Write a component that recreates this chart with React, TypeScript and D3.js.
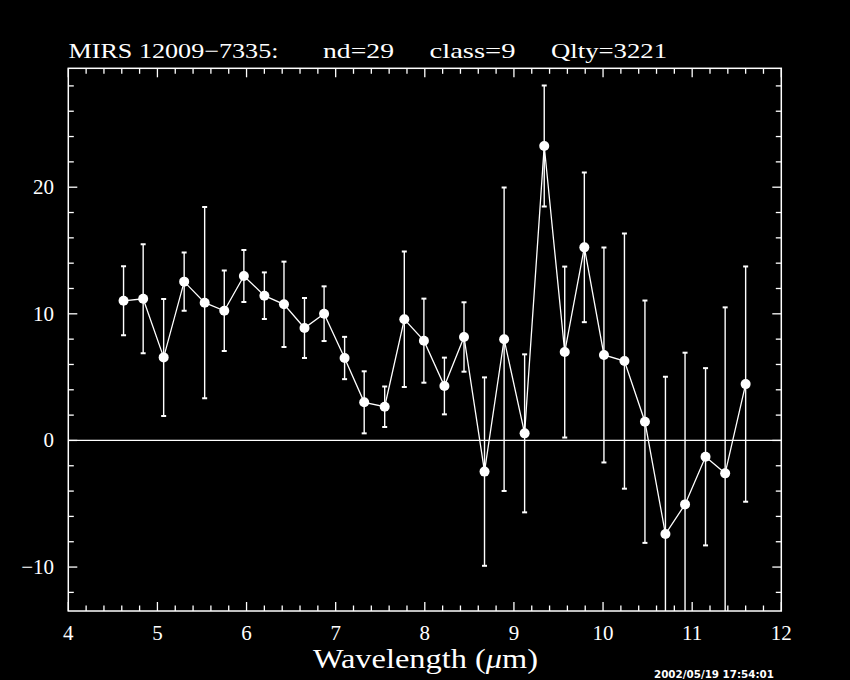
import React from 'react';
import * as d3 from 'd3';

// spectrum
const wavelengths = [4.62, 4.84, 5.07, 5.30, 5.53, 5.75, 5.97, 6.20, 6.42, 6.65, 6.87, 7.10, 7.32, 7.55, 7.77, 7.99,
  8.22, 8.44, 8.67, 8.89, 9.12, 9.34, 9.57, 9.79, 10.01, 10.24, 10.47, 10.70, 10.92, 11.15, 11.37, 11.60];
const fluxes = [11.03, 11.19, 6.56, 12.54, 10.88, 10.24, 12.99, 11.43, 10.75, 8.88, 10.01, 6.51, 3.01, 2.66, 9.57, 7.88,
  4.30, 8.17, -2.46, 7.99, 0.56, 23.25, 6.98, 15.25, 6.75, 6.27, 1.48, -7.39, -5.05, -1.29, -2.60, 4.45];
const sigmas = [2.72, 4.30, 4.62, 2.30, 7.55, 3.18, 2.06, 1.84, 3.37, 2.37, 2.16, 1.67, 2.45, 1.60, 5.35, 3.32,
  2.24, 2.74, 7.44, 11.98, 6.24, 4.78, 6.75, 5.91, 8.49, 10.08, 9.57, 12.42, 11.98, 7.00, 13.11, 9.29];

const xTickLabels = [4, 5, 6, 7, 8, 9, 10, 11, 12];
const yTickLabels = [-10, 0, 10, 20];
const titleParts = ['MIRS 12009\u22127335:', 'nd=29', 'class=9', 'Qlty=3221'];
const stamp = '2002/05/19 17:54:01';

const W = 850, H = 680;
const left = 68.3, right = 781.3, top = 68.3, bottom = 611;

export default function App() {
  const x = d3.scaleLinear().domain([4, 12]).range([left, right]);
  const y = d3.scaleLinear().domain([-13.47, 29.39]).range([bottom, top]);

  const pts = wavelengths.map((w, i) => ({ w, f: fluxes[i], s: sigmas[i] }));
  const line = d3.line<any>().x(d => x(d.w)).y(d => y(d.f));

  const xMinor = d3.range(4, 12.001, 0.2).map(v => Math.round(v * 10) / 10);
  const yMinor = d3.range(-12, 29, 2);

  const font = '"Liberation Serif", "DejaVu Serif", serif';
  const titleX = [68.5, 323, 429.5, 551];
  const titleW = [210, 71, 86, 116];

  return (
    <div style={{ position: 'absolute', left: 0, top: 0, width: W, height: H, background: '#000' }}>
      <svg width={W} height={H} style={{ display: 'block', background: '#000' }}>
        <defs>
          <clipPath id="frame">
            <rect x={left} y={top} width={right - left} height={bottom - top} />
          </clipPath>
        </defs>
        <rect x={0} y={0} width={W} height={H} fill="#000" />

        {titleParts.map((t, i) => (
          <text key={i} x={titleX[i]} y={58} fill="#fff" fontFamily={font} fontSize={21}
            textLength={titleW[i]} lengthAdjust="spacingAndGlyphs">{t}</text>
        ))}

        {/* frame */}
        <rect x={left} y={top} width={right - left} height={bottom - top} fill="none" stroke="#fff" strokeWidth={1.5} />

        {/* x ticks, bottom and top */}
        {xMinor.map(v => {
          const major = Number.isInteger(v);
          const len = major ? 9 : 5.5;
          return (
            <g key={'x' + v} stroke="#fff" strokeWidth={1.3}>
              <line x1={x(v)} x2={x(v)} y1={bottom} y2={bottom - len} />
              <line x1={x(v)} x2={x(v)} y1={top} y2={top + len} />
            </g>
          );
        })}
        {/* y ticks, left and right */}
        {yMinor.map(v => {
          const major = v % 10 === 0;
          const len = major ? 9 : 5.5;
          return (
            <g key={'y' + v} stroke="#fff" strokeWidth={1.3}>
              <line x1={left} x2={left + len} y1={y(v)} y2={y(v)} />
              <line x1={right} x2={right - len} y1={y(v)} y2={y(v)} />
            </g>
          );
        })}

        {xTickLabels.map(v => (
          <text key={'xl' + v} x={x(v)} y={640} fill="#fff" fontFamily={font} fontSize={21} textAnchor="middle">{v}</text>
        ))}
        {yTickLabels.map(v => (
          <text key={'yl' + v} x={54} y={y(v) + 7} fill="#fff" fontFamily={font} fontSize={21} textAnchor="end">
            {v < 0 ? '\u2212' + Math.abs(v) : v}
          </text>
        ))}

        <text x={313} y={668} fill="#fff" fontFamily={font} fontSize={27} textLength={225} lengthAdjust="spacingAndGlyphs">
          Wavelength (<tspan fontStyle="italic">{'\u03bc'}</tspan>m)
        </text>

        <g clipPath="url(#frame)">
          <line x1={left} x2={right} y1={y(0)} y2={y(0)} stroke="#fff" strokeWidth={1.2} />
          {pts.map((p, i) => (
            <g key={'e' + i} stroke="#fff">
              <line x1={x(p.w)} x2={x(p.w)} y1={y(p.f + p.s)} y2={y(p.f - p.s)} strokeWidth={1.4} />
              <line x1={x(p.w) - 2.5} x2={x(p.w) + 2.5} y1={y(p.f + p.s)} y2={y(p.f + p.s)} strokeWidth={2} />
              <line x1={x(p.w) - 2.5} x2={x(p.w) + 2.5} y1={y(p.f - p.s)} y2={y(p.f - p.s)} strokeWidth={2} />
            </g>
          ))}
          <path d={line(pts) || ''} fill="none" stroke="#fff" strokeWidth={1.3} />
          {pts.map((p, i) => (
            <circle key={'c' + i} cx={x(p.w)} cy={y(p.f)} r={5} fill="#fff" />
          ))}
        </g>

        <text x={654} y={678} fill="#fff" fontFamily='"DejaVu Sans", sans-serif' fontSize={10} fontWeight="bold"
          textLength={120} lengthAdjust="spacingAndGlyphs">{stamp}</text>
      </svg>
    </div>
  );
}
